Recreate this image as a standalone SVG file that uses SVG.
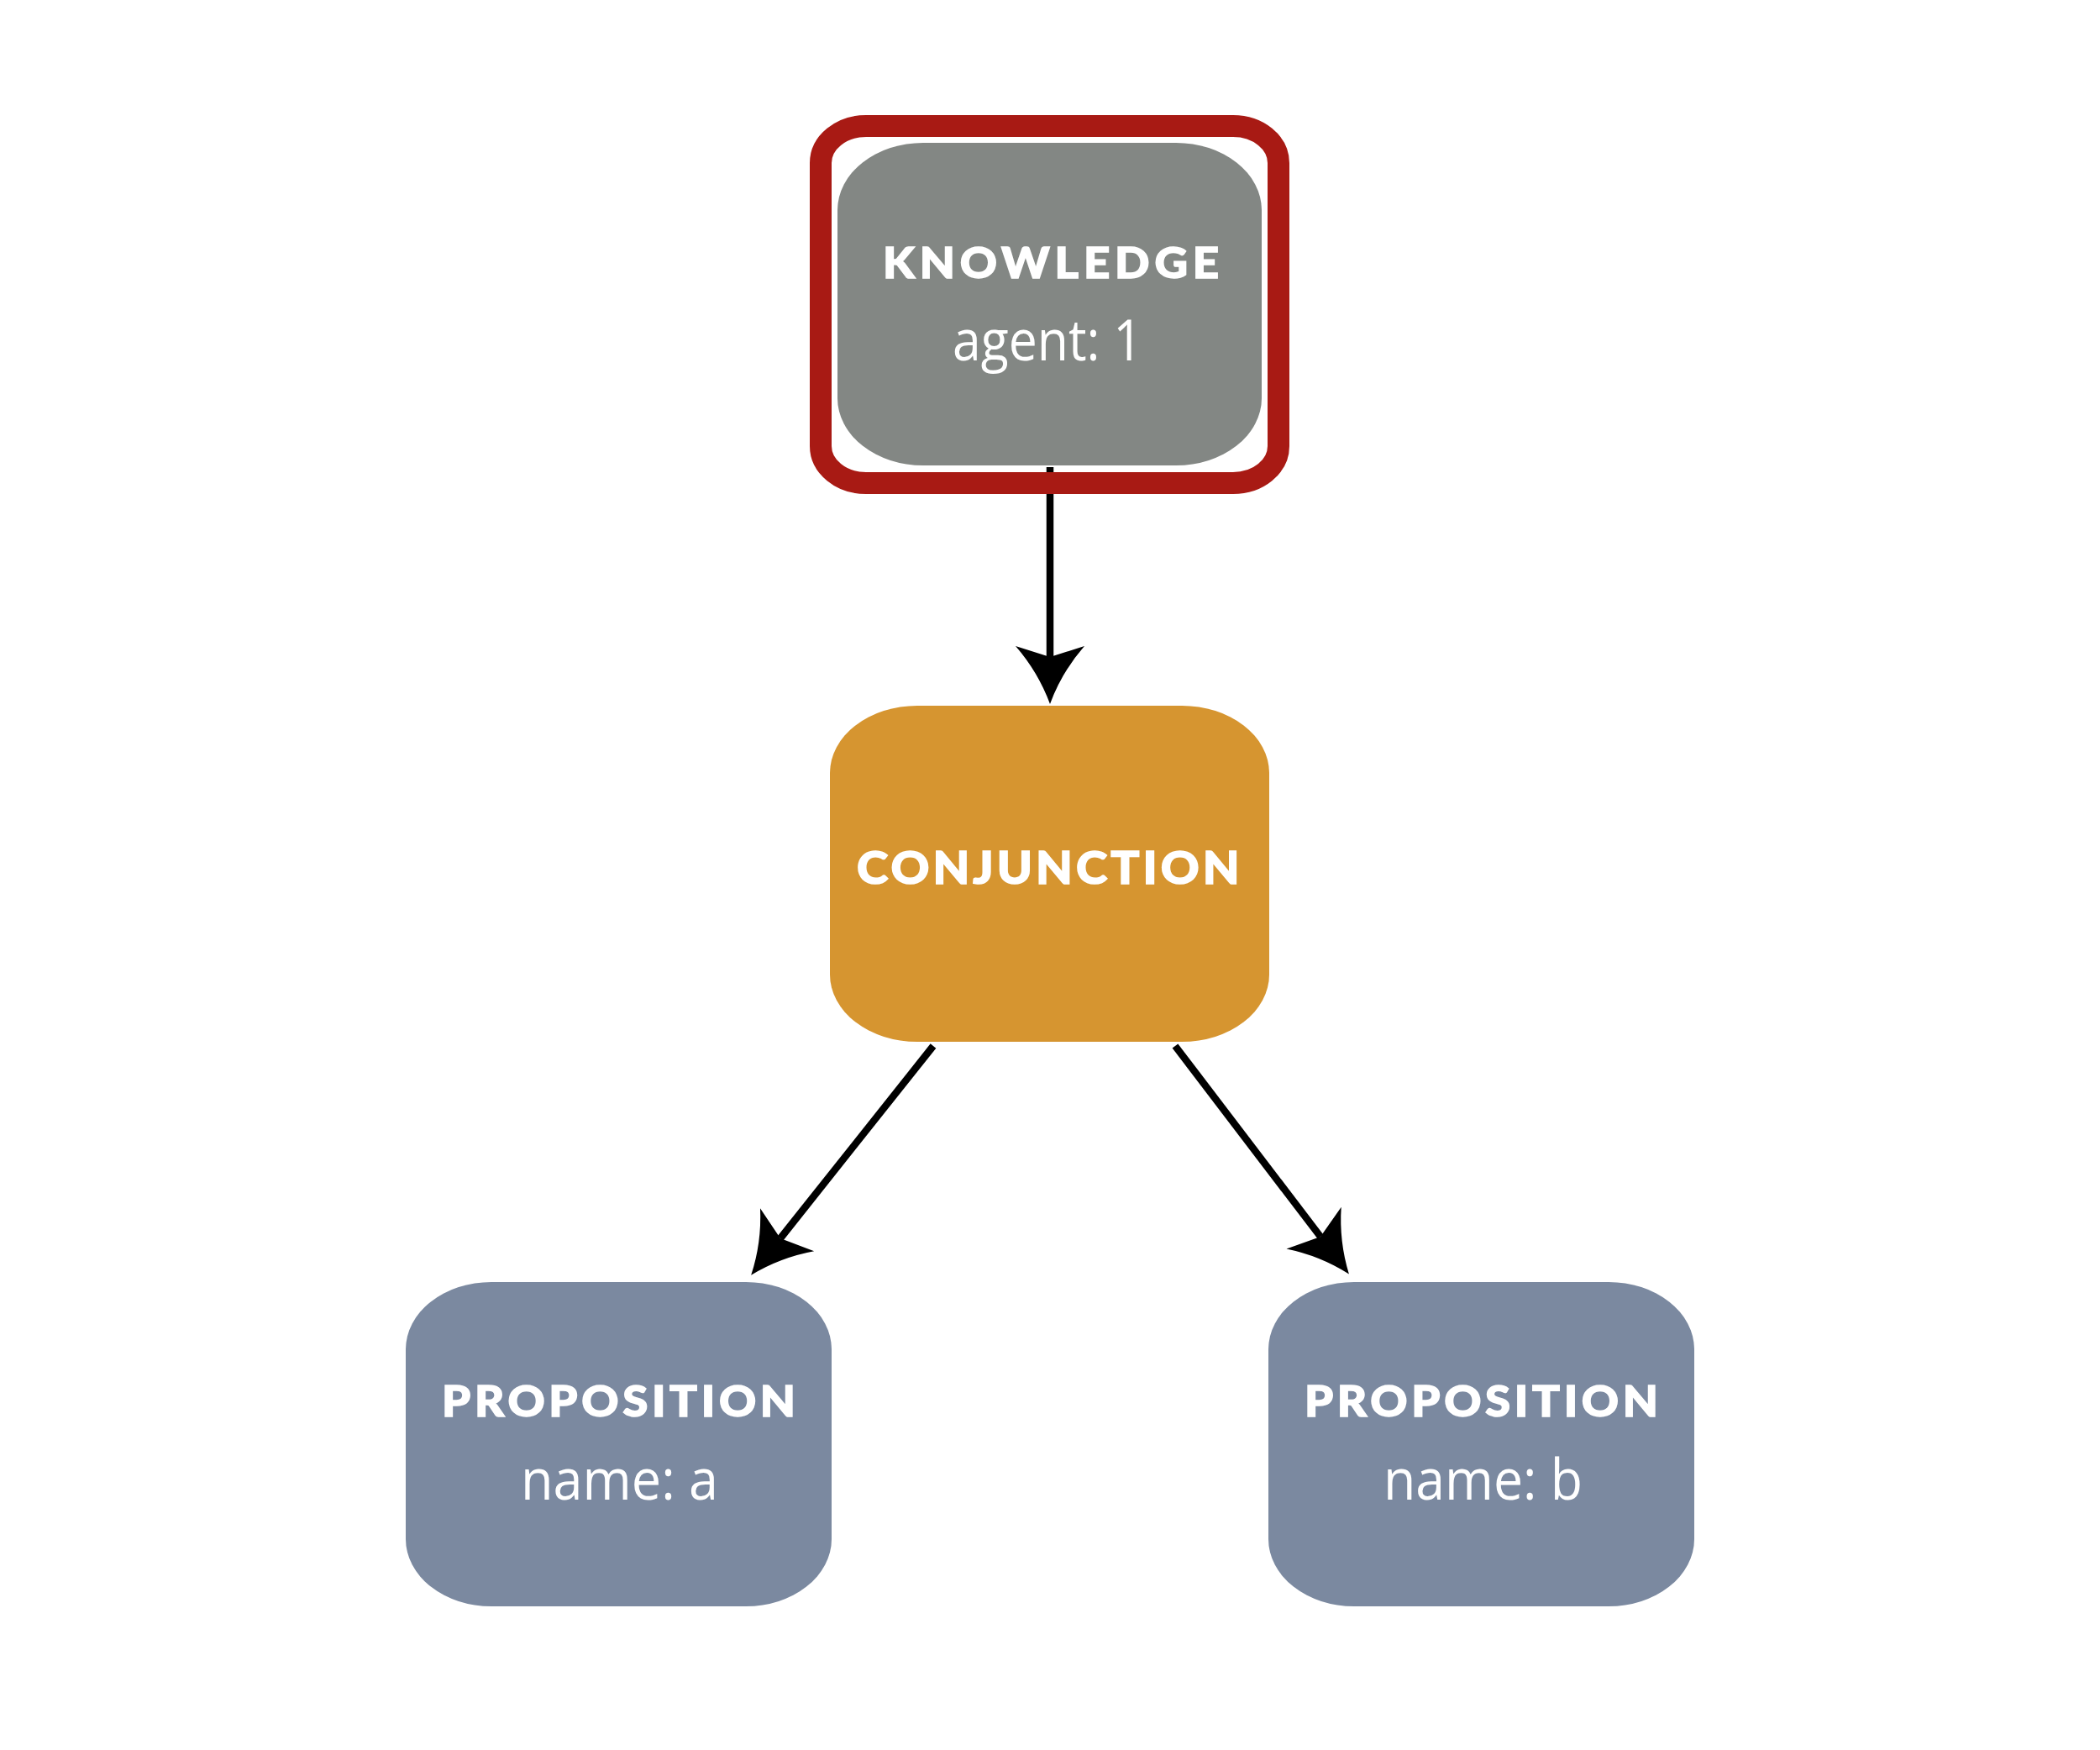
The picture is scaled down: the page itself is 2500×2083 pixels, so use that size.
<svg xmlns="http://www.w3.org/2000/svg" width="2500" height="2083" viewBox="0 0 2500 2083">
<style>
.title{font-family:"Lato","Open Sans","DejaVu Sans",sans-serif;font-weight:900;fill:#ffffff;stroke:#ffffff;stroke-width:1.5;}
.attr{font-family:"Open Sans","Liberation Sans",sans-serif;font-weight:400;fill:#ffffff;}
.edge{stroke:#000;stroke-width:8.5;fill:none;marker-end:url(#head);}
</style>
<defs>
<marker id="head" markerUnits="userSpaceOnUse" orient="auto" refX="0" refY="0" markerWidth="120" markerHeight="120" overflow="visible">
<path d="M56,0 Q18,-14 -13,-41 L0,0 L-13,41 Q18,14 56,0 Z" fill="#000"/>
</marker>
</defs>
<rect width="2500" height="2083" fill="#ffffff"/>
<g id="connectors">
<line class="edge" x1="1250" y1="556" x2="1250" y2="782"/>
<line class="edge" x1="1111" y1="1245" x2="929" y2="1474"/>
<line class="edge" x1="1399" y1="1245" x2="1572" y2="1472"/>
</g>
<g id="knowledge">
<rect x="997" y="170" width="505" height="384" rx="102" ry="80" fill="#838784"/>
<rect x="977" y="150" width="545" height="425" rx="54" ry="44" fill="none" stroke="#A81A14" stroke-width="26"/>
<text class="title" transform="scale(1.05,1)" x="1001" y="331" font-size="52" textLength="381" lengthAdjust="spacing">KNOWLEDGE</text>
<text class="attr" x="1134" y="429" font-size="67" textLength="226" lengthAdjust="spacingAndGlyphs">agent: 1</text>
</g>
<g id="conjunction">
<rect x="988" y="840" width="523" height="400" rx="104" ry="80" fill="#D69530"/>
<text class="title" transform="scale(1.05,1)" x="971.4" y="1052" font-size="54" textLength="434" lengthAdjust="spacing">CONJUNCTION</text>
</g>
<g id="proposition_a">
<rect x="483" y="1526" width="507" height="386" rx="102" ry="80" fill="#7B89A0"/>
<text class="title" transform="scale(1.05,1)" x="501" y="1686" font-size="52" textLength="401" lengthAdjust="spacing">PROPOSITION</text>
<text class="attr" x="620" y="1785" font-size="67" textLength="235" lengthAdjust="spacingAndGlyphs">name: a</text>
</g>
<g id="proposition_b">
<rect x="1510" y="1526" width="507" height="386" rx="102" ry="80" fill="#7B89A0"/>
<text class="title" transform="scale(1.05,1)" x="1479" y="1686" font-size="52" textLength="401" lengthAdjust="spacing">PROPOSITION</text>
<text class="attr" x="1647" y="1785" font-size="67" textLength="237" lengthAdjust="spacingAndGlyphs">name: b</text>
</g>
</svg>
